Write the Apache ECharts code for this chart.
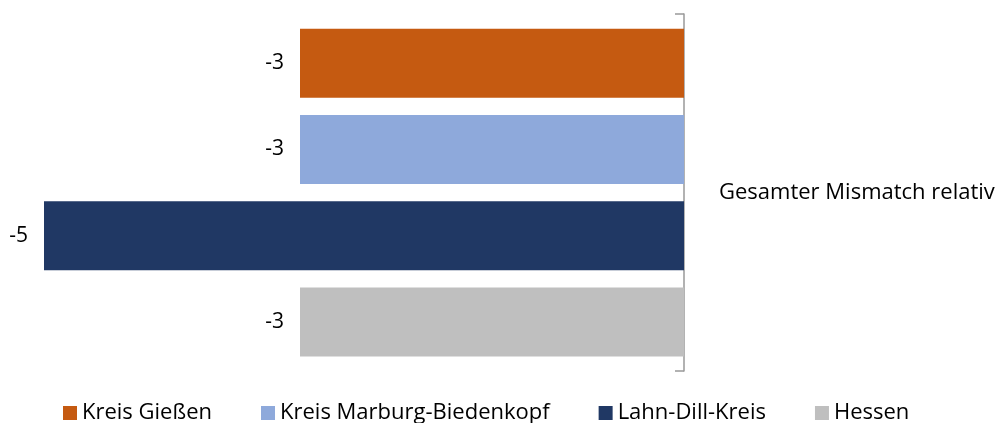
<!DOCTYPE html>
<html><head><meta charset="utf-8">
<script src="https://cdn.jsdelivr.net/npm/echarts@6/dist/echarts.min.js"></script>
<style>html,body{margin:0;padding:0;background:#fff}#c{width:1005px;height:423px}</style>
</head><body><div id="c"></div>
<script>
const categories = ['Gesamter Mismatch relativ'];
const seriesNames = ['Kreis Gießen', 'Kreis Marburg-Biedenkopf', 'Lahn-Dill-Kreis', 'Hessen'];
const valGiessen = [-3];
const valMarburg = [-3];
const valLahnDill = [-5];
const valHessen = [-3];
const colors = ['#C55A11', '#8EA9DB', '#203864', '#BFBFBF'];
const allValues = [valGiessen, valMarburg, valLahnDill, valHessen];
const font = 'Open Sans';
const chart = echarts.init(document.getElementById('c'));
chart.setOption({
  animation: false,
  textStyle: { fontFamily: font },
  grid: { left: 44, right: 321, top: 14, bottom: 52, containLabel: false },
  legend: {
    top: 397, left: 58,
    itemWidth: 14, itemHeight: 14, itemGap: 49,
    icon: 'rect',
    textStyle: { fontSize: 22, color: '#000', fontFamily: font },
    data: seriesNames
  },
  xAxis: { type: 'value', min: -5, max: 0, show: false },
  yAxis: {
    type: 'category', data: categories, position: 'right', inverse: true,
    axisLine: { show: true, lineStyle: { color: '#999', width: 1.5 } },
    axisTick: { show: true, inside: true, length: 9, lineStyle: { color: '#999', width: 1.5 } },
    axisLabel: { margin: 35, fontSize: 22, color: '#000', fontFamily: font }
  },
  series: seriesNames.map((n, i) => ({
    name: n, type: 'bar', data: allValues[i],
    barWidth: 69, barGap: '25%',
    itemStyle: { color: colors[i] },
    label: { show: true, position: 'left', distance: 16, fontSize: 21, color: '#000', fontFamily: font }
  }))
});
</script></body></html>
